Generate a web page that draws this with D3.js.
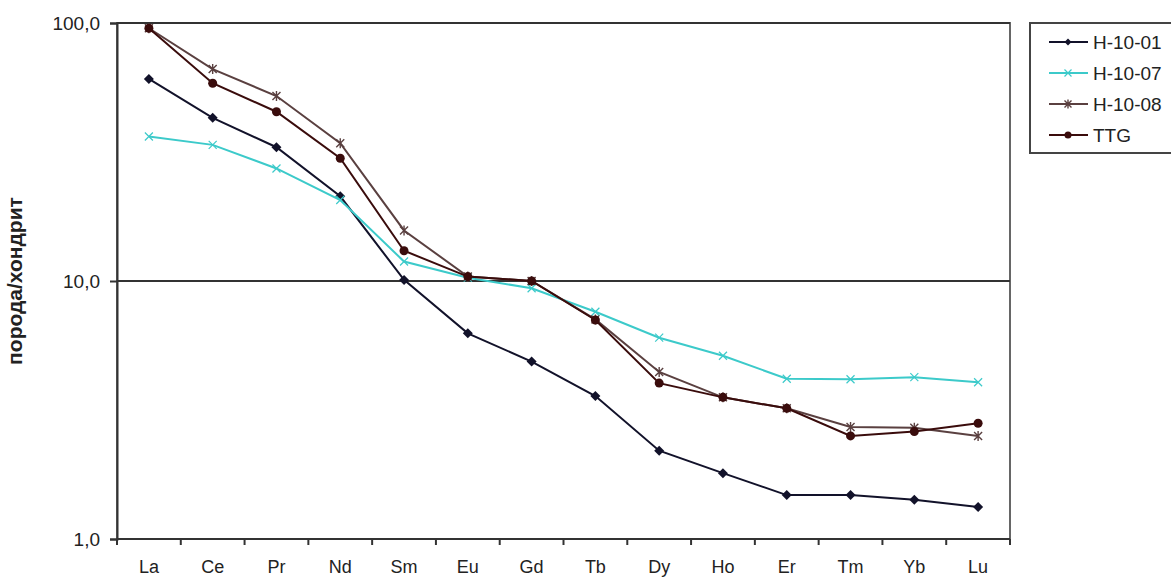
<!DOCTYPE html>
<html>
<head>
<meta charset="utf-8">
<script src="https://cdnjs.cloudflare.com/ajax/libs/d3/7.8.5/d3.min.js"></script>
<style>
  body { margin: 0; background: #fff; }
  svg { display: block; font-family: "Liberation Sans", Arial, sans-serif; }
</style>
</head>
<body>
<div id="chart"></div>
<script>
let elements = ["La", "Ce", "Pr", "Nd", "Sm", "Eu", "Gd", "Tb", "Dy", "Ho", "Er", "Tm", "Yb", "Lu"];
let seriesNames = ["H-10-01", "H-10-07", "H-10-08", "TTG"];
let h1001 = [60.7, 42.9, 33.0, 21.3, 10.1, 6.27, 4.87, 3.58, 2.20, 1.80, 1.48, 1.48, 1.42, 1.33];
let h1007 = [36.3, 33.7, 27.3, 20.6, 11.9, 10.3, 9.37, 7.6, 6.03, 5.13, 4.18, 4.16, 4.24, 4.05];
let h1008 = [95.4, 66.3, 52.1, 34.2, 15.7, 10.4, 10.0, 7.1, 4.44, 3.54, 3.21, 2.72, 2.70, 2.51];
let ttg = [95.4, 58.4, 45.3, 29.9, 13.1, 10.4, 10.0, 7.06, 4.02, 3.54, 3.21, 2.51, 2.61, 2.81];
let yTicks = [1, 10, 100];
let yTickLabels = ["1,0", "10,0", "100,0"];
let yTitle = "порода/хондрит";

let w = 1171;
let h = 580;
let padLeft = 117, padRight = 1010, padTop = 23, padBottom = 539;

let colors = ["#12122a", "#3ccaca", "#5a4040", "#3a0c0c"];
let markers = ["diamond", "cross", "star", "circle"];
let allSeries = [h1001, h1007, h1008, ttg];

let svg = d3.select("#chart").append("svg").attr("width", w).attr("height", h);

let x = d3.scaleBand().domain(elements).range([padLeft, padRight]);
let y = d3.scaleLog().domain([1, 100]).range([padBottom, padTop]);

// plot frame
svg.append("rect")
  .attr("x", padLeft).attr("y", padTop)
  .attr("width", padRight - padLeft).attr("height", padBottom - padTop)
  .attr("fill", "none").attr("stroke", "#666").attr("stroke-width", 2);

// gridlines at decades
svg.append("g").selectAll("line")
  .data(yTicks.slice(1))
  .enter().append("line")
  .attr("x1", padLeft).attr("x2", padRight)
  .attr("y1", function(d) { return y(d); })
  .attr("y2", function(d) { return y(d); })
  .attr("stroke", "#333").attr("stroke-width", 2);

// y axis
let yAxis = d3.axisLeft(y)
  .tickValues(yTicks)
  .tickSize(7)
  .tickPadding(10)
  .tickFormat(function(d, i) { return yTickLabels[i]; });
let gy = svg.append("g").attr("transform", "translate(" + padLeft + ",0)").call(yAxis);
gy.select(".domain").attr("stroke", "#333").attr("stroke-width", 2);
gy.selectAll(".tick line").attr("stroke", "#333").attr("stroke-width", 2);
gy.selectAll(".tick text")
  .attr("font-size", 19).attr("fill", "#222")
  .attr("font-family", "Liberation Sans, Arial, sans-serif");

// x axis: ticks at band edges, labels in centers
let gx = svg.append("g").attr("transform", "translate(0," + padBottom + ")");
gx.append("line").attr("x1", padLeft).attr("x2", padRight)
  .attr("stroke", "#333").attr("stroke-width", 2);
gx.selectAll("line.tk")
  .data(elements.concat(["end"]))
  .enter().append("line")
  .attr("class", "tk")
  .attr("x1", function(d, i) { return padLeft + i * x.step(); })
  .attr("x2", function(d, i) { return padLeft + i * x.step(); })
  .attr("y1", 0).attr("y2", 6)
  .attr("stroke", "#333").attr("stroke-width", 2);
gx.selectAll("text")
  .data(elements)
  .enter().append("text")
  .text(function(d) { return d; })
  .attr("x", function(d) { return x(d) + x.bandwidth() / 2; })
  .attr("y", 34)
  .attr("text-anchor", "middle")
  .attr("font-size", 18).attr("fill", "#222");

// y title
svg.append("text")
  .text(yTitle)
  .attr("transform", "translate(22," + ((padTop + padBottom) / 2) + ") rotate(-90)")
  .attr("text-anchor", "middle")
  .attr("font-size", 21).attr("font-weight", "bold").attr("fill", "#222");

function drawMarker(g, type, color, cx, cy, s) {
  let xPath = "M" + (cx - s) + "," + (cy - s) + "L" + (cx + s) + "," + (cy + s) +
    "M" + (cx - s) + "," + (cy + s) + "L" + (cx + s) + "," + (cy - s);
  if (type == "diamond") {
    g.append("path")
      .attr("d", "M" + cx + "," + (cy - s) + "L" + (cx + s) + "," + cy + "L" + cx + "," + (cy + s) + "L" + (cx - s) + "," + cy + "Z")
      .attr("fill", color);
  } else if (type == "circle") {
    g.append("circle").attr("cx", cx).attr("cy", cy).attr("r", s).attr("fill", color);
  } else if (type == "star") {
    // x with a vertical bar, like the spreadsheet star marker
    g.append("path")
      .attr("d", xPath + "M" + cx + "," + (cy - s - 1) + "L" + cx + "," + (cy + s + 1))
      .attr("stroke", color).attr("stroke-width", 1.4);
  } else {
    g.append("path")
      .attr("d", xPath)
      .attr("stroke", color).attr("stroke-width", 1.2);
  }
}

let line = d3.line()
  .x(function(d, i) { return x(elements[i]) + x.bandwidth() / 2; })
  .y(function(d) { return y(d); });

for (let k = 0; k < allSeries.length; k++) {
  let g = svg.append("g");
  g.append("path")
    .datum(allSeries[k])
    .attr("d", line)
    .attr("fill", "none")
    .attr("stroke", colors[k])
    .attr("stroke-width", 2);
  allSeries[k].forEach(function(v, i) {
    let s = markers[k] == "circle" ? 4.5 : markers[k] == "diamond" ? 5 : 4;
    drawMarker(g, markers[k], colors[k], x(elements[i]) + x.bandwidth() / 2, y(v), s);
  });
}

// legend
let lg = svg.append("g");
lg.append("rect")
  .attr("x", 1030).attr("y", 23)
  .attr("width", 150).attr("height", 130)
  .attr("fill", "#fff").attr("stroke", "#444").attr("stroke-width", 2);
seriesNames.forEach(function(name, k) {
  let ly = 42 + k * 31;
  lg.append("line")
    .attr("x1", 1049).attr("x2", 1088)
    .attr("y1", ly).attr("y2", ly)
    .attr("stroke", colors[k]).attr("stroke-width", 2);
  drawMarker(lg, markers[k], colors[k], 1068, ly, 3.5);
  lg.append("text")
    .text(name)
    .attr("x", 1093).attr("y", ly + 7)
    .attr("font-size", 19).attr("fill", "#222");
});
</script>
</body>
</html>
